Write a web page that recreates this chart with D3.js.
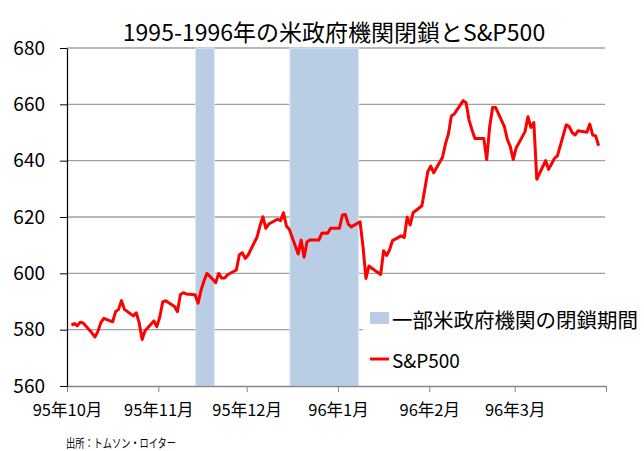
<!DOCTYPE html>
<html>
<head>
<meta charset="utf-8">
<script src="https://cdnjs.cloudflare.com/ajax/libs/d3/7.8.5/d3.min.js"></script>
<style>
  body { margin: 0; background: #fff; }
  svg { display: block; }
  text { font-family: "Noto Sans CJK JP", "Noto Sans", sans-serif; fill: #000; }
</style>
</head>
<body>
<div id="chart"></div>
<script>
'use strict';

// S&P500 daily closes
const tradeDates = [
  "1995-10-02","1995-10-03","1995-10-04","1995-10-05","1995-10-06",
  "1995-10-09","1995-10-10","1995-10-11","1995-10-12","1995-10-13",
  "1995-10-16","1995-10-17","1995-10-18","1995-10-19","1995-10-20",
  "1995-10-23","1995-10-24","1995-10-25","1995-10-26","1995-10-27",
  "1995-10-30","1995-10-31",
  "1995-11-01","1995-11-02","1995-11-03",
  "1995-11-06","1995-11-07","1995-11-08","1995-11-09","1995-11-10",
  "1995-11-13","1995-11-14","1995-11-15","1995-11-16","1995-11-17",
  "1995-11-20","1995-11-21","1995-11-22","1995-11-23","1995-11-24",
  "1995-11-27","1995-11-28","1995-11-29","1995-11-30",
  "1995-12-01",
  "1995-12-04","1995-12-05","1995-12-06","1995-12-07","1995-12-08",
  "1995-12-11","1995-12-12","1995-12-13","1995-12-14","1995-12-15",
  "1995-12-18","1995-12-19","1995-12-20","1995-12-21","1995-12-22",
  "1995-12-25","1995-12-26","1995-12-27","1995-12-28","1995-12-29",
  "1996-01-01","1996-01-02","1996-01-03","1996-01-04","1996-01-05",
  "1996-01-08","1996-01-09","1996-01-10","1996-01-11","1996-01-12",
  "1996-01-15","1996-01-16","1996-01-17","1996-01-18","1996-01-19",
  "1996-01-22","1996-01-23","1996-01-24","1996-01-25","1996-01-26",
  "1996-01-29","1996-01-30","1996-01-31",
  "1996-02-01","1996-02-02",
  "1996-02-05","1996-02-06","1996-02-07","1996-02-08","1996-02-09",
  "1996-02-12","1996-02-13","1996-02-14","1996-02-15","1996-02-16",
  "1996-02-19","1996-02-20","1996-02-21","1996-02-22","1996-02-23",
  "1996-02-26","1996-02-27","1996-02-28","1996-02-29",
  "1996-03-01",
  "1996-03-04","1996-03-05","1996-03-06","1996-03-07","1996-03-08",
  "1996-03-11","1996-03-12","1996-03-13","1996-03-14","1996-03-15",
  "1996-03-18","1996-03-19","1996-03-20","1996-03-21","1996-03-22",
  "1996-03-25","1996-03-26","1996-03-27","1996-03-28","1996-03-29"
];

const closes = [
  581.6, 582.2, 581.4, 582.6, 582.4,
  578.8, 577.4, 579.4, 582.5, 584.0,
  582.8, 586.4, 587.2, 590.3, 587.2,
  584.9, 586.0, 582.5, 576.5, 579.6,
  583.1, 581.1,
  584.5, 589.9, 590.3,
  588.2, 586.4, 592.5, 593.1, 592.7,
  592.4, 589.4, 594.0, 597.3, 600.0,
  596.7, 600.0, 598.3, 598.3, 599.5,
  601.2, 606.5, 607.3, 605.3,
  606.5,
  612.8, 616.8, 620.1, 616.0, 617.5,
  619.2, 618.7, 621.5, 616.8, 615.6,
  606.9, 611.8, 605.7, 611.2, 611.8,
  611.8, 614.2, 614.3, 614.2, 616.0,
  616.0, 620.7, 620.9, 617.5, 616.5,
  618.3, 609.5, 598.2, 602.6, 601.8,
  599.6, 608.0, 606.3, 608.3, 611.6,
  613.3, 612.7, 619.9, 617.2, 621.5,
  624.0, 630.0, 636.1,
  638.1, 635.7,
  641.2, 646.0, 649.5, 655.9, 656.6,
  661.3, 660.6, 654.4, 651.0, 647.9,
  647.9, 640.4, 652.0, 658.9, 658.9,
  652.1, 647.5, 645.0, 640.4,
  644.5,
  650.3, 655.6, 651.8, 653.5, 633.4,
  640.0, 636.9, 638.8, 640.8, 641.7,
  652.7, 652.1, 650.0, 649.1, 650.6,
  650.1, 653.0, 649.1, 648.8, 645.3
];

// government shutdown periods
const shutdownStart = ["1995-11-14", "1995-12-16"];
const shutdownEnd   = ["1995-11-20", "1996-01-08"];

// axes
const monthTicks  = ["1995-10-01","1995-11-01","1995-12-01","1996-01-01","1996-02-01","1996-03-01","1996-04-01"];
const monthLabels = ["95年10月","95年11月","95年12月","96年1月","96年2月","96年3月",""];
const yTicks = [560, 580, 600, 620, 640, 660, 680];

const titleText = "1995-1996年の米政府機関閉鎖とS&P500";
const legendLabels = ["一部米政府機関の閉鎖期間", "S&P500"];
const sourceText = "出所：トムソン・ロイター";

const W = 644, H = 451;
const margin = {top: 48, right: 38, bottom: 65, left: 67};
const width = W - margin.left - margin.right,
      height = H - margin.top - margin.bottom;

const parse = d3.timeParse("%Y-%m-%d");

const series = tradeDates.map(function(d, i) {
  // points sit in the middle of the day slot
  return {date: d3.timeHour.offset(parse(d), 12), value: closes[i]};
});
const bands = shutdownStart.map(function(d, i) {
  return {start: parse(d), end: parse(shutdownEnd[i])};
});

const svg = d3.select("#chart").append("svg")
  .attr("width", W)
  .attr("height", H);

const g = svg.append("g")
  .attr("transform", "translate(" + margin.left + "," + margin.top + ")");

const x = d3.scaleTime()
  .domain([parse(monthTicks[0]), parse(monthTicks[monthTicks.length - 1])])
  .range([0, width]);

const y = d3.scaleLinear()
  .domain([560, 680])
  .range([height, 0]);

// gridlines
g.append("g").selectAll("line")
  .data(yTicks.slice(1))
  .enter().append("line")
  .attr("x1", 0)
  .attr("x2", width - 1)
  .attr("y1", function(d) { return y(d); })
  .attr("y2", function(d) { return y(d); })
  .attr("stroke", "#a0a0a0")
  .attr("stroke-width", 1.3);

// shutdown bands
g.append("g").selectAll("rect")
  .data(bands)
  .enter().append("rect")
  .attr("x", function(d) { return x(d.start) - 1; })
  .attr("width", function(d) { return x(d.end) - x(d.start) + 1; })
  .attr("y", y(680))
  .attr("height", y(560) - y(680))
  .attr("fill", "#b9cde5")
  .attr("stroke", "#dde7f2")
  .attr("stroke-width", 1);

// x axis
const xAxis = d3.axisBottom(x)
  .tickValues(monthTicks.map(parse))
  .tickFormat(function(d, i) { return monthLabels[i]; })
  .tickSizeInner(6)
  .tickSizeOuter(0)
  .tickPadding(12);

const xg = g.append("g")
  .attr("transform", "translate(0," + height + ")")
  .call(xAxis);
xg.select(".domain").attr("stroke", "#868686").attr("stroke-width", 1.3);
xg.selectAll(".tick line").attr("stroke", "#868686");
xg.selectAll("text")
  .style("font-size", "16.5px")
  .attr("fill", "#000");

// y axis
const yAxis = d3.axisLeft(y)
  .tickValues(yTicks)
  .tickSizeInner(7)
  .tickSizeOuter(0)
  .tickPadding(15);

const yg = g.append("g").call(yAxis);
yg.select(".domain").attr("stroke", "#000").attr("stroke-width", 1.2);
yg.selectAll(".tick line").attr("stroke", "#000");
yg.selectAll("text")
  .style("font-size", "19px")
  .attr("fill", "#000");

// S&P500 line
const line = d3.line()
  .x(function(d) { return x(d.date); })
  .y(function(d) { return y(d.value); });

g.append("path")
  .datum(series)
  .attr("fill", "none")
  .attr("stroke", "#ff0000")
  .attr("stroke-width", 3)
  .attr("stroke-linejoin", "round")
  .attr("d", line);

// title
svg.append("text")
  .attr("x", 334)
  .attr("y", 41)
  .attr("text-anchor", "middle")
  .style("font-size", "23px")
  .text(titleText);

// legend (white box sits over the plot)
const legend = svg.append("g");
legend.append("rect")
  .attr("x", 363)
  .attr("y", 290)
  .attr("width", W - 363)
  .attr("height", 88)
  .attr("fill", "#fff");

legend.append("rect")
  .attr("x", 370)
  .attr("y", 312)
  .attr("width", 19)
  .attr("height", 12)
  .attr("fill", "#b9cde5");
legend.append("text")
  .attr("x", 392)
  .attr("y", 319)
  .attr("dominant-baseline", "central")
  .style("font-size", "20.5px")
  .text(legendLabels[0]);

legend.append("line")
  .attr("x1", 370)
  .attr("x2", 389)
  .attr("y1", 359)
  .attr("y2", 359)
  .attr("stroke", "#ff0000")
  .attr("stroke-width", 3);
legend.append("text")
  .attr("x", 392)
  .attr("y", 359)
  .attr("dominant-baseline", "central")
  .style("font-size", "19px")
  .text(legendLabels[1]);

// source note
svg.append("text")
  .attr("x", 66)
  .attr("y", 442)
  .attr("dominant-baseline", "central")
  .attr("textLength", 110)
  .attr("lengthAdjust", "spacingAndGlyphs")
  .style("font-size", "12px")
  .text(sourceText);
</script>
</body>
</html>
